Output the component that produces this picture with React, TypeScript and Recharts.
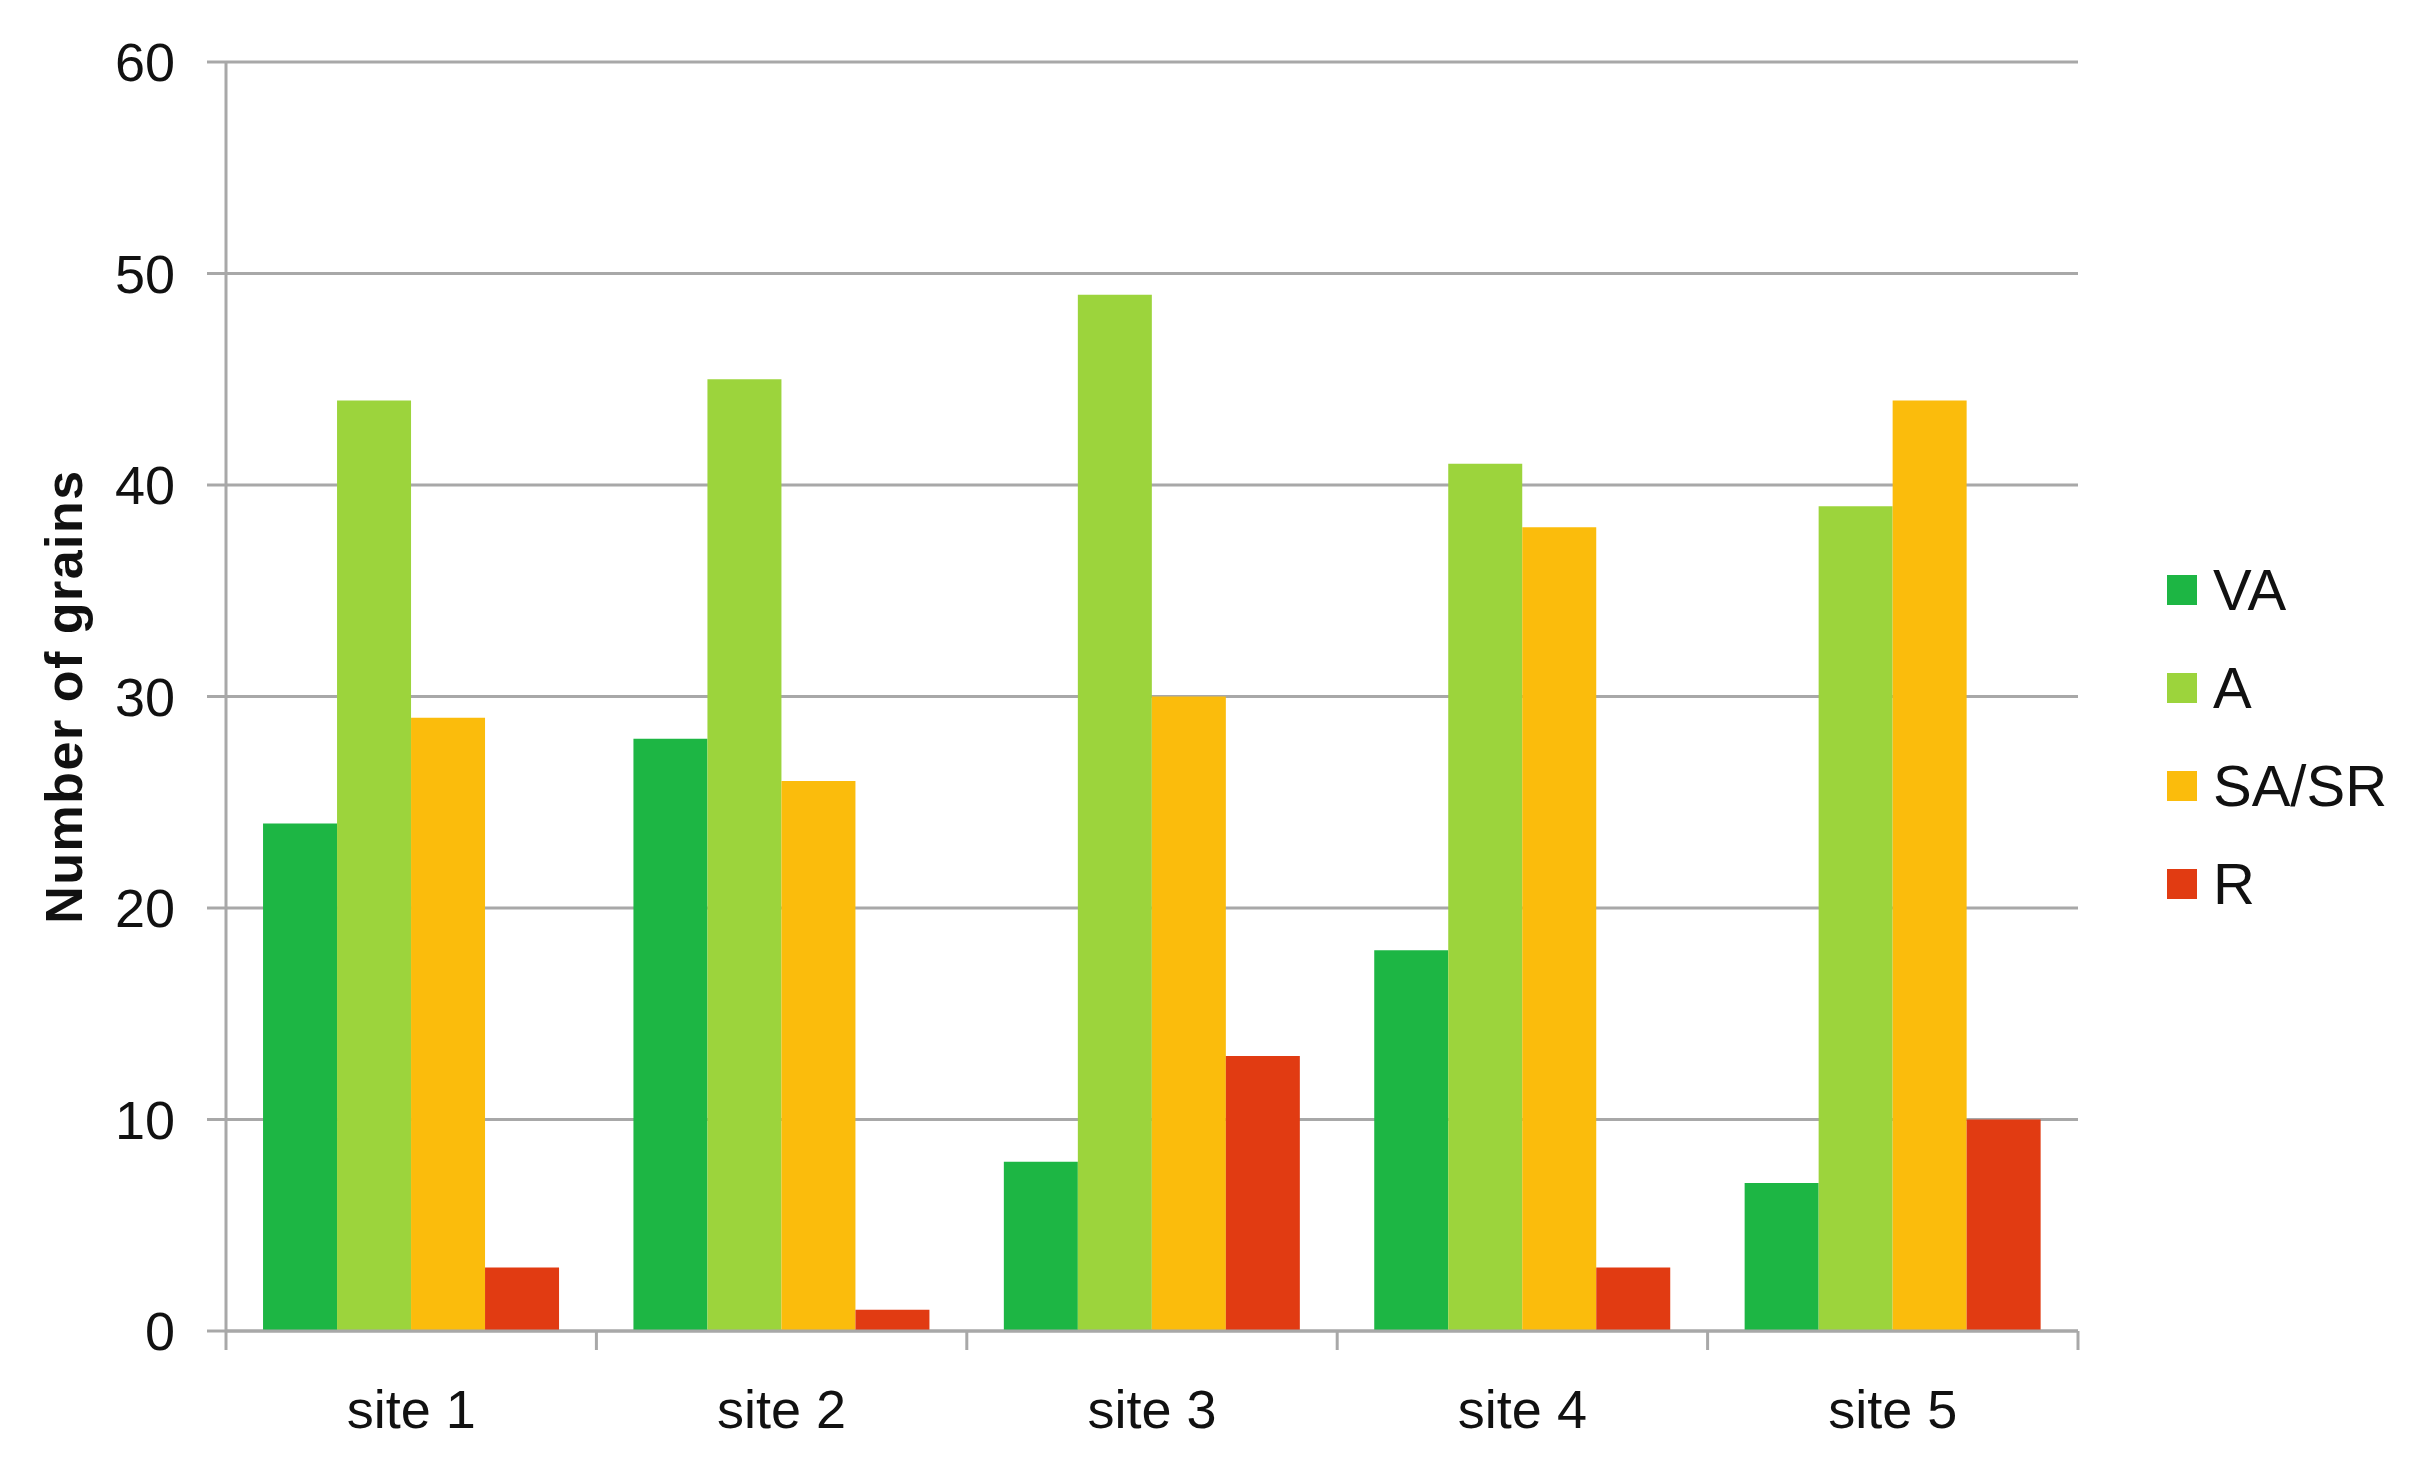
import React from 'react';
import { BarChart, Bar, XAxis, YAxis, CartesianGrid, Legend } from 'recharts';

const categories = ['site 1', 'site 2', 'site 3', 'site 4', 'site 5'];
const vaValues = [24, 28, 8, 18, 7];
const aValues = [44, 45, 49, 41, 39];
const sasrValues = [29, 26, 30, 38, 44];
const rValues = [3, 1, 13, 3, 10];
const yTicks = [0, 10, 20, 30, 40, 50, 60];

const seriesNames = ['VA', 'A', 'SA/SR', 'R'];
const seriesColors = ['#1db644', '#9cd43c', '#fbbc0c', '#e13b12'];

const data = categories.map((c, i) => ({
  site: c,
  VA: vaValues[i],
  A: aValues[i],
  'SA/SR': sasrValues[i],
  R: rValues[i],
}));

const W = 2418;
const H = 1467;
const MARGIN = { top: 62, right: 340, bottom: 36, left: 26 };
const Y_AXIS_W = 200;
const PLOT_W = W - MARGIN.left - Y_AXIS_W - MARGIN.right;
const HALF_BAND = PLOT_W / categories.length / 2;
const GRAY = '#a8a8a8';
const FONT = '"Liberation Sans", Arial, sans-serif';

function XTick(props: any) {
  const { x, y, payload, index } = props;
  const half = payload && typeof payload.offset === 'number' && payload.offset > 0 ? payload.offset : HALF_BAND;
  const last = index === categories.length - 1;
  return (
    <g>
      <line x1={x - half} x2={x - half} y1={y - 19} y2={y} stroke={GRAY} strokeWidth={3} />
      {last && <line x1={x + half} x2={x + half} y1={y - 19} y2={y} stroke={GRAY} strokeWidth={3} />}
      <text x={x} y={y + 78} textAnchor="middle" fontSize={54} fontFamily={FONT} fill="#111">
        {payload.value}
      </text>
    </g>
  );
}

function renderLegend() {
  return (
    <div style={{ fontFamily: FONT }}>
      {seriesNames.map((n, i) => (
        <div key={n} style={{ display: 'flex', alignItems: 'center', height: 98 }}>
          <div style={{ width: 30, height: 30, background: seriesColors[i], marginRight: 16 }} />
          <span style={{ fontSize: 58, color: '#111', lineHeight: '98px' }}>{n}</span>
        </div>
      ))}
    </div>
  );
}

function YLabel(props: any) {
  const vb = props.viewBox || { x: 26, y: 62, width: 200, height: 1269 };
  const cx = vb.x + 56;
  const cy = vb.y + vb.height / 2;
  return (
    <text
      x={cx}
      y={cy}
      transform={`rotate(-90, ${cx}, ${cy})`}
      textAnchor="middle"
      fontSize={52}
      fontWeight="bold"
      letterSpacing={1.5}
      fontFamily={FONT}
      fill="#111"
    >
      Number of grains
    </text>
  );
}

export default function App() {
  return (
    <div style={{ position: 'absolute', left: 0, top: 0, background: '#fff' }}>
      <BarChart
        width={W}
        height={H}
        data={data}
        margin={MARGIN}
        barCategoryGap="10%"
        barGap={0}
      >
        <CartesianGrid vertical={false} stroke={GRAY} strokeWidth={3} />
        <XAxis
          dataKey="site"
          height={100}
          axisLine={{ stroke: GRAY, strokeWidth: 3 }}
          tickLine={false}
          tickSize={19}
          tickMargin={0}
          tick={<XTick />}
          interval={0}
        />
        <YAxis
          width={Y_AXIS_W}
          domain={[0, 60]}
          ticks={yTicks}
          interval={0}
          axisLine={{ stroke: GRAY, strokeWidth: 3 }}
          tickLine={{ stroke: GRAY, strokeWidth: 3 }}
          tickSize={19}
          tickMargin={32}
          tick={{ fontSize: 54, fill: '#111', fontFamily: FONT }}
          label={<YLabel />}
        />
        <YAxis
          yAxisId="right"
          orientation="right"
          width={0}
          domain={[0, 60]}
          tick={false}
          tickLine={false}
          axisLine={{ stroke: GRAY, strokeWidth: 3 }}
        />
        <Legend
          layout="vertical"
          align="center"
          verticalAlign="middle"
          content={renderLegend}
          wrapperStyle={{ position: 'absolute', left: 2167, top: 541, width: 250, height: 392 }}
        />
        {seriesNames.map((n, i) => (
          <Bar key={n} dataKey={n} name={n} fill={seriesColors[i]} isAnimationActive={false} />
        ))}
      </BarChart>
    </div>
  );
}
